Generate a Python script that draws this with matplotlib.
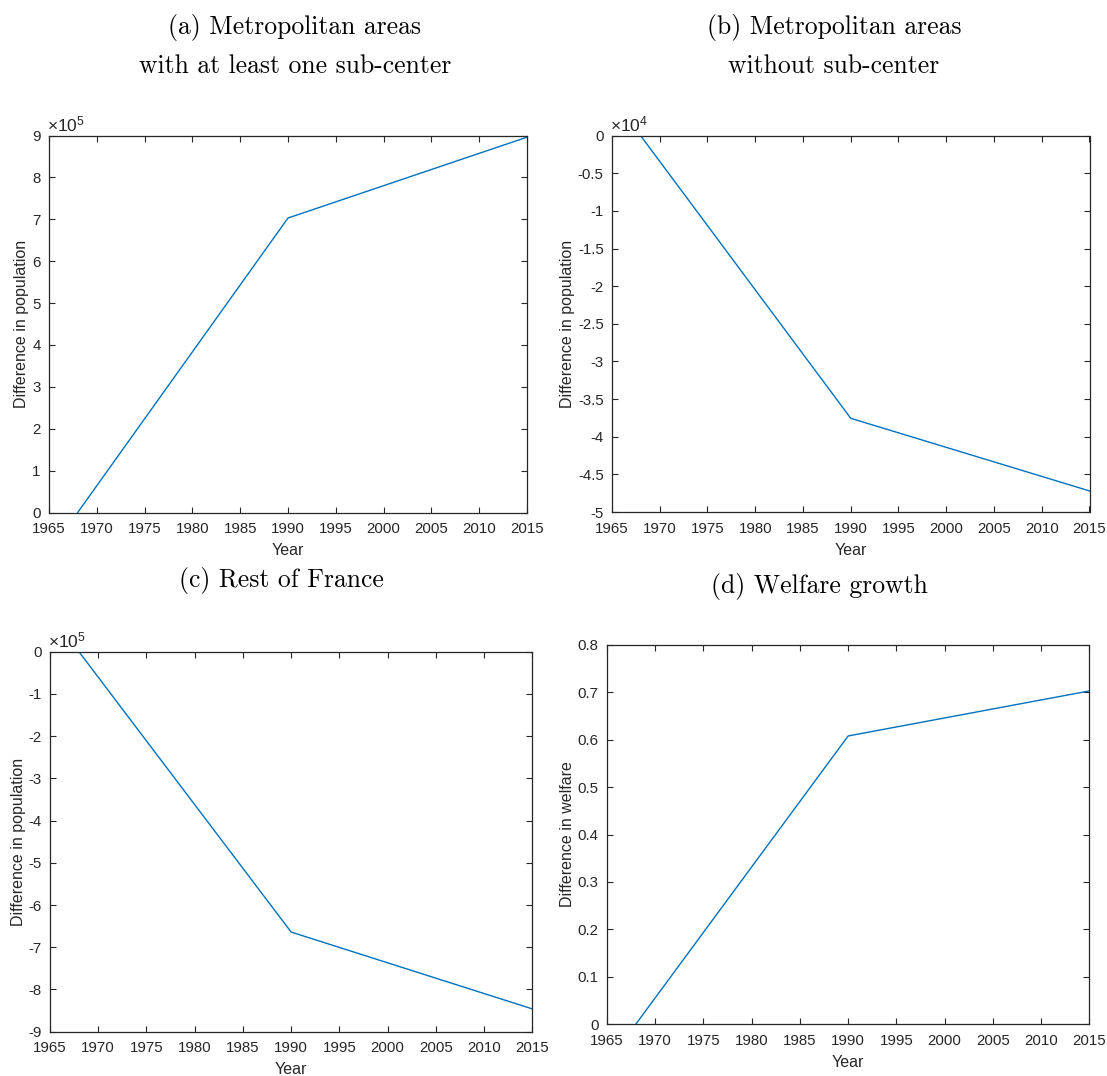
import math
import matplotlib
matplotlib.use("Agg")
import matplotlib.pyplot as plt
from matplotlib.ticker import FuncFormatter, MultipleLocator

plt.rcParams['font.family'] = ['Liberation Sans', 'DejaVu Sans']
plt.rcParams['axes.unicode_minus'] = False
plt.rcParams['mathtext.fontset'] = 'custom'
plt.rcParams['mathtext.rm'] = 'Liberation Sans'
plt.rcParams['mathtext.it'] = 'Liberation Sans'

# ---- data ----
years = [1968, 1990, 2015]
pop_with_sub = [0, 7.03e5, 8.96e5]
pop_without_sub = [0, -3.755e4, -4.72e4]
pop_rest = [0, -6.64e5, -8.46e5]
welfare = [0, 0.608, 0.703]

xticks = list(range(1965, 2016, 5))

titles = ["(a) Metropolitan areas\nwith at least one sub-center",
          "(b) Metropolitan areas\nwithout sub-center",
          "(c) Rest of France",
          "(d) Welfare growth"]
ylabels = ["Difference in population", "Difference in population",
           "Difference in population", "Difference in welfare"]

W, H = 1107, 1076
fig = plt.figure(figsize=(W / 100, H / 100), dpi=100)

def box(l, t, r, b):
    return [l / W, (H - b) / H, (r - l) / W, (b - t) / H]

axes_px = [(49, 135.5, 527, 512.5), (612, 135.7, 1089.5, 512),
           (50, 651.7, 532.3, 1031.7), (607, 645, 1089.3, 1024)]
series = [pop_with_sub, pop_without_sub, pop_rest, welfare]
ylims = [(0, 9e5), (-5e4, 0), (-9e5, 0), (0, 0.8)]
ysteps = [1e5, 0.5e4, 1e5, 0.1]
scales = [1e5, 1e4, 1e5, None]
title_pos = [(295, 46), (834, 46), (281, 580), (819, 587)]

axc = '#262626'
for i in range(4):
    ax = fig.add_axes(box(*axes_px[i]))
    ax.plot(years, series[i], color='#0072BD', lw=1.0)
    ax.set_xlim(1965, 2015)
    ax.set_ylim(*ylims[i])
    ax.set_xticks(xticks)
    ax.yaxis.set_major_locator(MultipleLocator(ysteps[i]))
    s = scales[i]
    if s is not None:
        ax.yaxis.set_major_formatter(FuncFormatter(lambda v, p, s=s: f"{round(v / s, 6):g}"))
        exp = int(round(math.log10(s)))
        ax.text(-0.004, 1.004, r'$\times10^{%d}$' % exp, transform=ax.transAxes,
                ha='left', va='bottom', fontsize=12.5, color=axc)
    else:
        ax.yaxis.set_major_formatter(FuncFormatter(lambda v, p: f"{round(v, 6):g}"))
    ax.tick_params(direction='in', length=4, width=0.8, top=True, right=True,
                   labelsize=10.8, colors=axc)
    ax.tick_params(axis='x', pad=7)
    ax.tick_params(axis='y', pad=6)
    for sp in ax.spines.values():
        sp.set_color(axc)
        sp.set_linewidth(0.9)
    ax.set_xlabel("Year", fontsize=11.5, color=axc, labelpad=5)
    ax.set_ylabel(ylabels[i], fontsize=11.5, color=axc, labelpad=2)
    tx, ty = title_pos[i]
    fig.text(tx / W, 1 - ty / H, titles[i], ha='center', va='center',
             multialignment='center', fontsize=18.5, family='cmr10',
             linespacing=1.75, color='black')

fig.savefig("out.png", dpi=100)
